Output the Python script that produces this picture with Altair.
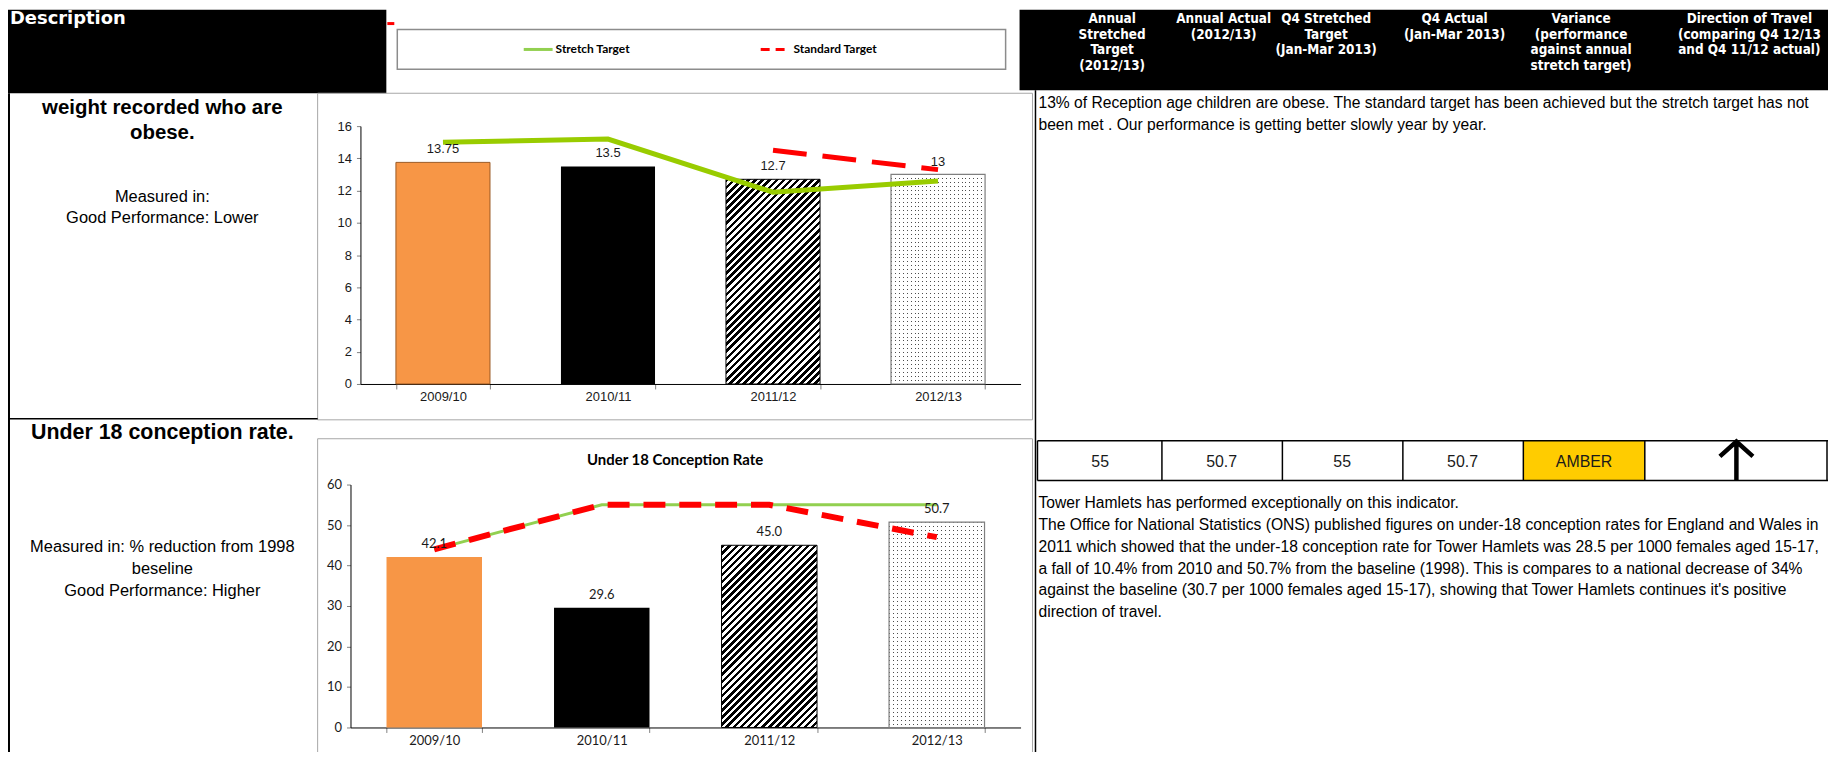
import math
import altair as alt
import pandas as pd

# ---------------- data ----------------
periods = ["2009/10", "2010/11", "2011/12", "2012/13"]

obese_actual = [13.75, 13.5, 12.7, 13]
obese_stretch = [15.0, 15.2, 11.9, 12.6]
obese_standard = [None, None, 14.5, 13.3]

conc_actual = [42.1, 29.6, 45.0, 50.7]
conc_stretch = [44, 55, 55, 55]
conc_standard = [44, 55, 55, 47]

conc_title = "Under 18 Conception Rate"
legend_labels = ["Stretch Target", "Standard Target"]

header_desc = "Description"
header_cols = [
    ["Annual", "Stretched", "Target", "(2012/13)"],
    ["Annual Actual", "(2012/13)"],
    ["Q4  Stretched", "Target", "(Jan-Mar 2013)"],
    ["Q4  Actual", "(Jan-Mar 2013)"],
    ["Variance", "(performance", "against annual", "stretch target)"],
    ["Direction of Travel", "(comparing Q4 12/13", "and Q4 11/12  actual)"],
]
table_values = ["55", "50.7", "55", "50.7", "AMBER"]

desc1_title = ["weight recorded who are", "obese."]
desc1_info = ["Measured in:", "Good Performance: Lower"]
desc2_title = ["Under 18 conception rate."]
desc2_info = ["Measured in: % reduction from 1998", "beseline", "Good Performance: Higher"]

comment1 = [
    "13% of Reception age children are obese. The standard target has been achieved but the stretch target has not",
    "been met . Our performance is getting better slowly year by year.",
]
comment2 = [
    "Tower Hamlets has performed exceptionally on this indicator.",
    "The Office for National Statistics (ONS) published figures on under-18 conception rates for England and Wales in",
    "2011 which showed that the under-18 conception rate for Tower Hamlets was 28.5 per 1000 females aged 15-17,",
    "a fall of 10.4% from 2010 and 50.7% from the baseline (1998). This is compares to a national decrease of 34%",
    "against the baseline (30.7 per 1000 females aged 15-17), showing that Tower Hamlets continues it's positive",
    "direction of travel.",
]

# ---------------- layout (page pixels) ----------------
OFF = 8
W, H = 1828, 744
SANS = "Liberation Sans"
CAL = "Lato"
HEAD = "DejaVu Sans Condensed, DejaVu Sans"


def X(p):
    return p - OFF


def Y(p):
    return p - OFF


dummy = pd.DataFrame({"d": [0]})
base = alt.Chart(dummy)


def rect(x1, y1, x2, y2, fill="transparent", stroke=None, sw=1):
    kw = dict(fill=fill)
    if stroke:
        kw.update(stroke=stroke, strokeWidth=sw)
    else:
        kw.update(strokeWidth=0)
    return base.mark_rect(**kw).encode(
        x=alt.value(X(x1)), x2=alt.value(X(x2)), y=alt.value(Y(y1)), y2=alt.value(Y(y2))
    )


def hline(x1, x2, y, color="black", sw=1, dash=None):
    kw = dict(color=color, strokeWidth=sw)
    if dash:
        kw["strokeDash"] = dash
    return base.mark_rule(**kw).encode(x=alt.value(X(x1)), x2=alt.value(X(x2)), y=alt.value(Y(y)))


def vline(x, y1, y2, color="black", sw=1):
    return base.mark_rule(color=color, strokeWidth=sw).encode(
        x=alt.value(X(x)), y=alt.value(Y(y1)), y2=alt.value(Y(y2))
    )


def texts(lines, x, y0, size, lh=0, weight="normal", color="black", align="left", font=SANS):
    out = []
    for i, s in enumerate(lines):
        out.append(
            base.mark_text(text=s, align=align, baseline="middle", fontSize=size,
                           fontWeight=weight, font=font, color=color)
            .encode(x=alt.value(X(x)), y=alt.value(Y(y0 + i * lh)))
        )
    return out


# ---------------- patterns ----------------
def hatch(w, h, period=5.0, frac=0.5):
    r = h / w
    k = (1 + r) / (1 + r * r)
    d = (w + h) / math.sqrt(2)
    n = max(1, round(d / period))
    stops = []
    for i in range(n):
        a, b, c = i / n, (i + frac) / n, (i + 1) / n
        stops += [{"offset": a, "color": "#000000"}, {"offset": b, "color": "#000000"},
                  {"offset": b, "color": "#ffffff"}, {"offset": c, "color": "#ffffff"}]
    return {"gradient": "linear", "x1": 0, "y1": 0, "x2": k, "y2": k * r, "stops": stops}


def stripes(length, vertical, on, off, period=4.0, frac=0.25):
    n = max(1, round(length / period))
    stops = []
    for i in range(n):
        a, b, c = i / n, (i + frac) / n, (i + 1) / n
        stops += [{"offset": a, "color": on}, {"offset": b, "color": on},
                  {"offset": b, "color": off}, {"offset": c, "color": off}]
    if vertical:
        return {"gradient": "linear", "x1": 0, "y1": 0, "x2": 0, "y2": 1, "stops": stops}
    return {"gradient": "linear", "x1": 0, "y1": 0, "x2": 1, "y2": 0, "stops": stops}


PI, PO = 0.43, 0.215


def bar_chart(df, x0, x1, y0, y1, ymax, ystep, font, lab_font, stretch_color, stretch_w,
              std_w, std_dash, label_fmt, orange_stroke):
    xs = alt.Scale(domain=periods, range=[X(x0), X(x1)], paddingInner=PI, paddingOuter=PO)
    ys = alt.Scale(domain=[0, ymax], range=[Y(y0), Y(y1)], nice=False, zero=True)
    xax = alt.Axis(orient="bottom", offset=Y(y0) - H, title=None, labelAngle=0, tickBand="extent",
                   tickSize=5, tickColor="#808080", domainColor="#000000", domainWidth=1,
                   labelFont=font, labelFontSize=13, labelColor="#1a1a1a", labelPadding=2, grid=False)
    yax = alt.Axis(orient="left", offset=-X(x0), title=None, values=list(range(0, ymax + 1, ystep)),
                   tickSize=4, tickColor="#808080", domainColor="#000000", domainWidth=1,
                   labelFont=font, labelFontSize=13, labelColor="#1a1a1a", labelPadding=5, grid=False)
    xe = alt.X("period:N", scale=xs, axis=xax)

    def ye(field):
        return alt.Y(f"{field}:Q", scale=ys, axis=yax)

    step = (x1 - x0) / (len(periods) - PI + 2 * PO)
    bw = step * (1 - PI)
    ppu = (y0 - y1) / ymax
    c = alt.Chart(df)
    layers = []
    sel = lambda p: alt.datum.period == p
    v3 = float(df.loc[df.period == periods[2], "actual"].iloc[0])
    v4 = float(df.loc[df.period == periods[3], "actual"].iloc[0])
    kw_or = dict(fill="#F79646")
    if orange_stroke:
        kw_or.update(stroke="#9a5a24", strokeWidth=1)
    layers.append(c.mark_bar(**kw_or).encode(x=xe, y=ye("actual")).transform_filter(sel(periods[0])))
    layers.append(c.mark_bar(fill="#000000").encode(x=xe, y=ye("actual")).transform_filter(sel(periods[1])))
    layers.append(c.mark_bar(fill=hatch(bw, v3 * ppu), stroke="#000000", strokeWidth=1)
                  .encode(x=xe, y=ye("actual")).transform_filter(sel(periods[2])))
    layers.append(c.mark_bar(fill=stripes(v4 * ppu, True, "#4d4d4d", "#ffffff"))
                  .encode(x=xe, y=ye("actual")).transform_filter(sel(periods[3])))
    layers.append(c.mark_bar(fill=stripes(bw, False, "rgba(255,255,255,0)", "#ffffff"),
                             stroke="#7f7f7f", strokeWidth=1.2)
                  .encode(x=xe, y=ye("actual")).transform_filter(sel(periods[3])))
    layers.append(c.mark_line(color=stretch_color, strokeWidth=stretch_w).encode(x=xe, y=ye("stretch")))
    layers.append(c.mark_line(color="#FF0000", strokeWidth=std_w, strokeDash=std_dash)
                  .encode(x=xe, y=ye("standard")))
    t = alt.Text("actual:Q", format=label_fmt) if label_fmt else alt.Text("label:N")
    layers.append(c.mark_text(baseline="bottom", dy=-6, font=lab_font, fontSize=13, color="#1a1a1a")
                  .encode(x=xe, y=ye("actual"), text=t))
    return alt.layer(*layers)


df1 = pd.DataFrame({"period": periods, "actual": obese_actual, "stretch": obese_stretch,
                    "standard": obese_standard,
                    "label": [f"{v:g}" for v in obese_actual]})
df2 = pd.DataFrame({"period": periods, "actual": conc_actual, "stretch": conc_stretch,
                    "standard": conc_standard})

top = bar_chart(df1, 362, 1025, 384, 125, 16, 2, SANS, SANS, "#99CC00", 5, 5, [34, 16], None, True)
bottom = bar_chart(df2, 352, 1025, 729, 485, 60, 10, CAL, CAL, "#92D050", 3, 6, [22, 14], ".1f", False)

# ---------------- decoration ----------------
back = []
# headers
back.append(rect(OFF, OFF, 388, 92, fill="#000000"))
back.append(rect(1024, OFF, 1836, 89, fill="#000000"))
back += texts([header_desc], 10, 17, 18, weight="bold", color="#ffffff", font="DejaVu Sans")
centers = [1117, 1229, 1332, 1461, 1588, 1757]
for cx, lines in zip(centers, header_cols):
    back += texts(lines, cx, 17, 13.5, lh=16, weight="bold", color="#ffffff", align="center", font=HEAD)
# legend box
back.append(rect(399, 28, 1010, 68, fill="#ffffff", stroke="#8c8c8c", sw=1.5))
back.append(hline(526, 555, 48, color="#92D050", sw=3))
back += texts([legend_labels[0]], 558, 48, 12, weight="bold", font=CAL)
back.append(hline(764, 790, 48, color="#FF0000", sw=3, dash=[9, 6]))
back += texts([legend_labels[1]], 797, 48, 12, weight="bold", font=CAL)
back.append(hline(389, 396, 22, color="#FF0000", sw=3))
# frames
back.append(rect(319, 92, 1037, 420, stroke="#a6a6a6", sw=1))
back.append(rect(319, 439, 1037, 800, stroke="#a6a6a6", sw=1))
back.append(vline(9, 92, 800, color="#000000", sw=2))
back.append(hline(OFF, 319, 419, color="#000000", sw=1.5))
back.append(vline(1040, 89, 800, color="#000000", sw=1.5))
# table row
T0, T1 = 441, 481
back.append(rect(1530, T0, 1652, T1, fill="#FFCC00"))
back.append(hline(1042, 1836, T0, sw=1.5))
back.append(hline(1042, 1836, T1, sw=1.5))
for xb in [1042, 1167, 1288, 1409, 1530, 1652, 1835]:
    back.append(vline(xb, T0, T1, sw=1.5))
cell_centers = [1105, 1227, 1348, 1469, 1591]
for cx, v in zip(cell_centers, table_values):
    back += texts([v], cx, 462, 16, align="center", font=SANS, color="#1a1a1a")
back.append(base.mark_point(shape="M0,1L0,-0.9M-0.85,-0.22L0,-0.98L0.85,-0.22", filled=False,
                            stroke="#000000", strokeWidth=4.5, size=1521, opacity=1)
            .encode(x=alt.value(X(1744)), y=alt.value(Y(461))))
# left descriptions
back += texts(desc1_title, 163, 107, 20.5, lh=25, weight="bold", align="center")
back += texts(desc1_info, 163, 196, 16.5, lh=21, align="center")
back += texts(desc2_title, 163, 433, 21.5, weight="bold", align="center")
back += texts(desc2_info, 163, 548, 16.5, lh=22, align="center")
# right comments
back += texts(comment1, 1043, 102, 15.7, lh=22, font=SANS)
back += texts(comment2, 1043, 504, 15.7, lh=21.8, font=SANS)
# chart title
back += texts([conc_title], 678, 460, 15, weight="bold", align="center", font=CAL)

deco = alt.layer(*back)

chart = (
    alt.layer(deco, top, bottom)
    .resolve_scale(x="independent", y="independent")
    .properties(width=W, height=H, autosize=alt.AutoSizeParams(type="none"), padding=0,
                background="#ffffff")
    .configure_view(stroke=None)
)

chart.save("out.html", embed_options={"renderer": "svg", "actions": False})
